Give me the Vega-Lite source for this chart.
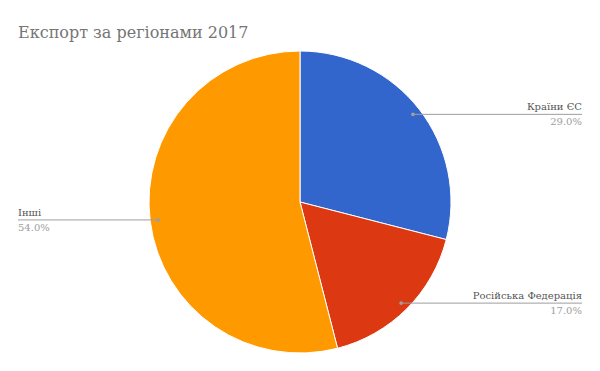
{
  "$schema": "https://vega.github.io/schema/vega-lite/v6.json",
  "width": 600,
  "height": 302,
  "autosize": {"type": "none"},
  "padding": {"left": 0, "top": 51, "right": 0, "bottom": 18},
  "background": "white",
  "view": {"stroke": null},
  "title": {
    "text": "Експорт за регіонами 2017",
    "anchor": "start",
    "frame": "group",
    "font": "DejaVu Serif",
    "fontSize": 16,
    "fontWeight": "normal",
    "color": "#757575",
    "dx": 18,
    "baseline": "alphabetic",
    "offset": -5
  },
  "data": {
    "values": [
      {"region": "Країни ЄС", "share": 29, "n": 1},
      {"region": "Російська Федерація", "share": 17, "n": 2},
      {"region": "Інші", "share": 54, "n": 3}
    ]
  },
  "transform": [
    {"window": [{"op": "sum", "field": "share", "as": "cum"}], "sort": [{"field": "n"}], "frame": [null, 0]},
    {"joinaggregate": [{"op": "sum", "field": "share", "as": "total"}]},
    {"calculate": "(datum.cum - datum.share/2)/datum.total*2*PI", "as": "mid"},
    {"calculate": "143*sin(datum.mid)", "as": "px"},
    {"calculate": "143*cos(datum.mid)", "as": "py"},
    {"calculate": "datum.px > 0 ? 282 : -282", "as": "lx"},
    {"calculate": "format(datum.share/datum.total, '.1%')", "as": "pct"}
  ],
  "layer": [
    {
      "mark": {"type": "arc", "stroke": "white", "strokeWidth": 1},
      "encoding": {
        "theta": {"field": "share", "type": "quantitative", "stack": true},
        "order": {"field": "n", "type": "quantitative"},
        "color": {
          "field": "region",
          "type": "nominal",
          "scale": {"domain": ["Країни ЄС", "Російська Федерація", "Інші"], "range": ["#3366cc", "#dc3912", "#ff9900"]},
          "legend": null
        }
      }
    },
    {
      "mark": {"type": "rule", "color": "#9e9e9e", "strokeWidth": 1},
      "encoding": {
        "x": {"field": "px", "type": "quantitative", "scale": {"domain": [-300, 300], "nice": false, "zero": false}, "axis": null},
        "x2": {"field": "lx"},
        "y": {"field": "py", "type": "quantitative", "scale": {"domain": [-151, 151], "nice": false, "zero": false}, "axis": null}
      }
    },
    {
      "mark": {"type": "circle", "size": 14, "color": "#9e9e9e", "opacity": 1},
      "encoding": {
        "x": {"field": "px", "type": "quantitative"},
        "y": {"field": "py", "type": "quantitative"}
      }
    },
    {
      "transform": [{"filter": "datum.px > 0"}],
      "mark": {"type": "text", "font": "DejaVu Serif", "fontSize": 10, "align": "right", "baseline": "alphabetic", "dy": -4, "color": "#555555"},
      "encoding": {
        "x": {"field": "lx", "type": "quantitative"},
        "y": {"field": "py", "type": "quantitative"},
        "text": {"field": "region"}
      }
    },
    {
      "transform": [{"filter": "datum.px > 0"}],
      "mark": {"type": "text", "font": "DejaVu Serif", "fontSize": 10, "align": "right", "baseline": "alphabetic", "dy": 11, "color": "#9e9e9e"},
      "encoding": {
        "x": {"field": "lx", "type": "quantitative"},
        "y": {"field": "py", "type": "quantitative"},
        "text": {"field": "pct"}
      }
    },
    {
      "transform": [{"filter": "datum.px <= 0"}],
      "mark": {"type": "text", "font": "DejaVu Serif", "fontSize": 10, "align": "left", "baseline": "alphabetic", "dy": -4, "color": "#555555"},
      "encoding": {
        "x": {"field": "lx", "type": "quantitative"},
        "y": {"field": "py", "type": "quantitative"},
        "text": {"field": "region"}
      }
    },
    {
      "transform": [{"filter": "datum.px <= 0"}],
      "mark": {"type": "text", "font": "DejaVu Serif", "fontSize": 10, "align": "left", "baseline": "alphabetic", "dy": 11, "color": "#9e9e9e"},
      "encoding": {
        "x": {"field": "lx", "type": "quantitative"},
        "y": {"field": "py", "type": "quantitative"},
        "text": {"field": "pct"}
      }
    }
  ]
}
